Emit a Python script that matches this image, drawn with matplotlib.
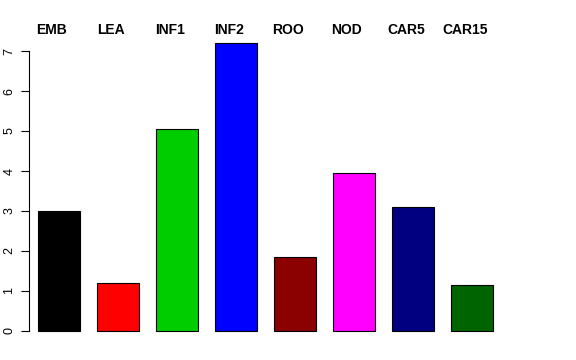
import numpy as np
import matplotlib
matplotlib.use("Agg")
import matplotlib.pyplot as plt

# sample names and bar heights
samples = ["EMB", "LEA", "INF1", "INF2", "ROO", "NOD", "CAR5", "CAR15"]
values = [3.0, 1.2, 5.05, 7.2, 1.85, 3.95, 3.1, 1.15]
colours = ["#000000", "#FF0000", "#00CD00", "#0000FF",
           "#8B0000", "#FF00FF", "#000080", "#006400"]
yticks = [0, 1, 2, 3, 4, 5, 6, 7]

plt.rcParams['font.family'] = ['Liberation Sans', 'DejaVu Sans']

fig = plt.figure(figsize=(5.76, 3.6), dpi=100)
ax = fig.add_axes([29/576, 17.5/360, 473/576, 311/360])

x = np.arange(len(samples))
ax.bar(x, values, width=0.712, color=colours, edgecolor="black", linewidth=0.8)

ax.set_xlim(-0.508, len(samples) - 1 + 0.508)
ax.set_ylim(-0.288, 7.488)

for s in ["top", "right", "bottom"]:
    ax.spines[s].set_visible(False)
ax.spines["left"].set_bounds(0, 7)
ax.spines["left"].set_linewidth(0.8)
ax.set_xticks([])
ax.set_yticks(yticks)
ax.set_yticklabels([str(t) for t in yticks], rotation=90, va="center", fontsize=9)
ax.tick_params(axis="y", length=5.8, width=0.8, pad=4)

# names along the top, bold
for xi, name in zip(x, samples):
    ax.text(xi - 0.12, 0.992, name, transform=ax.get_xaxis_transform(),
            ha="center", va="baseline", fontsize=10, fontweight="bold",
            clip_on=False)

fig.savefig("out.png", dpi=100)
